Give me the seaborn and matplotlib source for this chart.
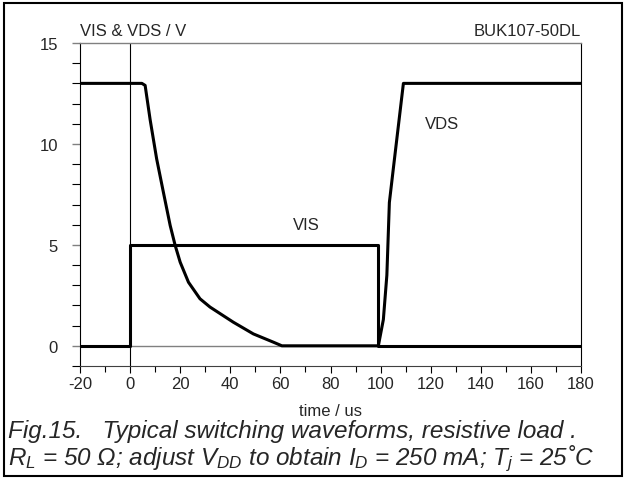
import matplotlib
matplotlib.use("Agg")
import matplotlib.pyplot as plt
import seaborn as sns
import pandas as pd
from matplotlib.ticker import MultipleLocator
from matplotlib.patches import Rectangle

# ---- data ----
vds_t = [-20, 4.7, 6, 8, 10.6, 13.3, 16, 18, 20, 23.3, 27.9, 31.9, 41.2, 49.2,
         57.2, 60.6, 99.1, 101.1, 102.5, 103.5, 105.1, 107.1, 109.1, 180]
vds_v = [13, 13, 12.9, 11.2, 9.26, 7.6, 5.96, 4.97, 4.14, 3.15, 2.33, 1.92, 1.17,
         0.59, 0.18, 0, 0, 1.3, 3.5, 7.1, 8.8, 10.9, 13, 13]
vis_t = [-20, 0, 0, 99.1, 99.1, 180]
vis_v = [0, 0, 5, 5, 0, 0]
x_ticks = [-20, 0, 20, 40, 60, 80, 100, 120, 140, 160, 180]
y_ticks = [0, 5, 10, 15]

sns.set_style("ticks")
plt.rcParams["font.family"] = ["Liberation Sans", "DejaVu Sans"]
plt.rcParams["mathtext.fontset"] = "custom"
plt.rcParams["mathtext.it"] = "Liberation Sans:italic"
plt.rcParams["mathtext.rm"] = "Liberation Sans:italic"
plt.rcParams["mathtext.sf"] = "Liberation Sans:italic"

fig = plt.figure(figsize=(6.26, 4.81), dpi=100)
ax = fig.add_axes([80/626, 1-367/481, (581-80)/626, (367-44)/481])

df_vds = pd.DataFrame({"t": vds_t, "v": vds_v})
df_vis = pd.DataFrame({"t": vis_t, "v": vis_v})

ax.axhline(0, color="#808080", lw=1.0, zorder=1)
ax.axvline(0, color="black", lw=0.8, zorder=1)
sns.lineplot(data=df_vis, x="t", y="v", sort=False, estimator=None,
             color="black", lw=2.2, ax=ax, zorder=3)
sns.lineplot(data=df_vds, x="t", y="v", sort=False, estimator=None,
             color="black", lw=2.2, ax=ax, zorder=3)

ax.set_xlim(-20, 180)
ax.set_ylim(-1, 15)
ax.set_xticks(x_ticks)
ax.set_xticklabels([str(v) for v in x_ticks])
ax.set_yticks(y_ticks)
ax.set_yticklabels([str(v) for v in y_ticks])
ax.xaxis.set_minor_locator(MultipleLocator(10))
ax.yaxis.set_minor_locator(MultipleLocator(1))
ax.tick_params(axis="x", which="major", length=5, width=0.8, color="black",
               labelsize=12, pad=2)
ax.tick_params(axis="x", which="minor", length=4, width=0.8, color="black")
ax.tick_params(axis="y", which="major", length=6, width=1.0, color="#808080",
               labelsize=12, pad=10)
ax.tick_params(axis="y", which="minor", length=6, width=0.8, color="black")

for s in ["left", "right"]:
    ax.spines[s].set_color("black")
    ax.spines[s].set_linewidth(0.8)
ax.spines["top"].set_color("#808080")
ax.spines["top"].set_linewidth(1.0)
ax.spines["bottom"].set_color("#404040")
ax.spines["bottom"].set_linewidth(0.8)

ax.set_xlabel("time / us", fontsize=12, labelpad=9)
ax.set_ylabel("")

ax.text(0.0, 1.015, "VIS & VDS / V", transform=ax.transAxes, ha="left",
        va="bottom", fontsize=12)
ax.text(1.0, 1.015, "BUK107-50DL", transform=ax.transAxes, ha="right",
        va="bottom", fontsize=12)
ax.text(70.4, 6.0, "VIS", ha="center", va="center", fontsize=12)
ax.text(124.4, 11.0, "VDS", ha="center", va="center", fontsize=12)

fig.text(8/626, 1-438/481, "Fig.15.   Typical switching waveforms, resistive load .",
         ha="left", va="baseline", fontsize=17.5, style="italic")
fig.text(8/626, 1-465/481,
         r"$R_L$ = 50 Ω; adjust $V_{DD}$ to obtain $I_D$ = 250 mA; $T_j$ = 25˚C",
         ha="left", va="baseline", fontsize=17.5, style="italic")

fig.add_artist(Rectangle((4/626, 4/481), 618/626, 473/481, transform=fig.transFigure,
                         fill=False, edgecolor="black", lw=1.5))

fig.savefig("out.png", dpi=100)
